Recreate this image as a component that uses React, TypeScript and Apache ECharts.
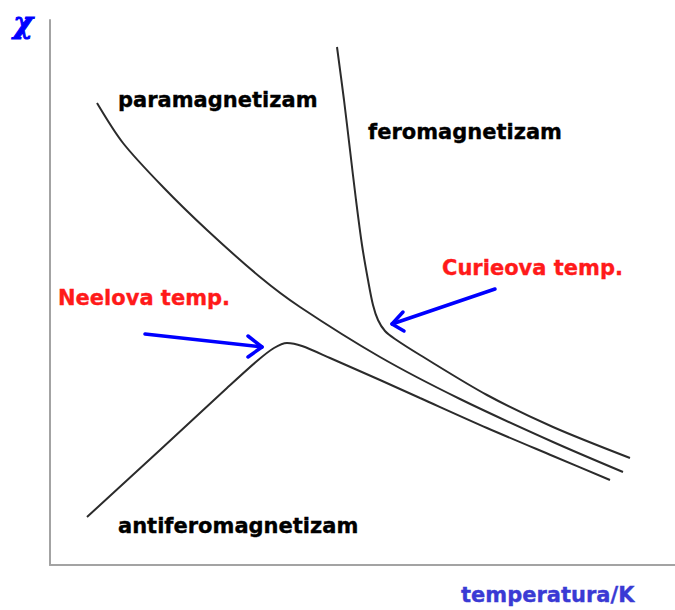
import React, { useEffect, useRef } from "react";
import * as echarts from "echarts";

// Curves (temperature, susceptibility in arbitrary units)
const paraT = [47, 73, 113, 157, 210, 250, 330, 410, 503, 573];
const paraChi = [462, 422, 378, 335, 288, 258, 208, 166, 123, 93];

const feroT = [287, 294, 300, 306, 312, 318, 323, 328, 335, 345, 370, 437, 503, 580];
const feroChi = [518, 465, 415, 365, 320, 285, 260, 245, 234, 226, 210, 170, 138, 107];

const antiT = [37, 110, 177, 207, 224, 237, 252, 280, 330, 370, 437, 503, 560];
const antiChi = [48, 115, 177, 204, 217, 222, 219, 207, 185, 167, 137, 109, 85];

// Annotation arrows (data coordinates): shaft tail -> tip, and head wings
const curieShaft = [[445, 276], [342, 241]];
const curieHead = [[353, 253], [342, 241], [354, 234]];
const neelShaft = [[95, 231], [212, 218]];
const neelHead = [[198, 229], [212, 218], [198, 208]];

const labels = {
  para: "paramagnetizam",
  fero: "feromagnetizam",
  anti: "antiferomagnetizam",
  curie: "Curieova temp.",
  neel: "Neelova temp.",
  xName: "temperatura/K",
  yName: "χ",
};

const zip = (a: number[], b: number[]) => a.map((v, i) => [v, b[i]]);

export default function App() {
  const ref = useRef<HTMLDivElement>(null);
  useEffect(() => {
    if (!ref.current) return;
    const chart = echarts.init(ref.current, null, { renderer: "svg" });
    const curve = (name: string, data: number[][]) => ({
      name,
      type: "line",
      data,
      showSymbol: false,
      symbol: "none",
      smooth: 0.3,
      lineStyle: { color: "#2b2b2b", width: 2 },
      silent: true,
    });
    const arrow = (name: string, data: number[][]) => ({
      name,
      type: "line",
      data,
      symbol: "none",
      showSymbol: false,
      lineStyle: { color: "#0000ff", width: 3.5, cap: "round", join: "round" },
      silent: true,
    });
    const font = "DejaVu Sans";
    const txt = (text: string, x: number, y: number, fill: string) => ({
      type: "text",
      x,
      y,
      style: {
        text,
        fill,
        stroke: fill,
        lineWidth: 0.35,
        font: `bold 21px "${font}"`,
        textAlign: "left",
        textVerticalAlign: "middle",
      },
    });
    chart.setOption({
      animation: false,
      backgroundColor: "#ffffff",
      grid: { left: 50, top: 20, width: 625, height: 545, containLabel: false },
      xAxis: {
        type: "value",
        min: 0,
        max: 625,
        axisLine: { show: true, onZero: false, lineStyle: { color: "#a3a3a3", width: 2 } },
        axisTick: { show: false },
        axisLabel: { show: false },
        splitLine: { show: false },
      },
      yAxis: {
        type: "value",
        min: 0,
        max: 545,
        axisLine: { show: true, onZero: false, lineStyle: { color: "#a3a3a3", width: 2 } },
        axisTick: { show: false },
        axisLabel: { show: false },
        splitLine: { show: false },
      },
      series: [
        curve("para", zip(paraT, paraChi)),
        curve("fero", zip(feroT, feroChi)),
        curve("anti", zip(antiT, antiChi)),
        arrow("curieShaft", curieShaft),
        arrow("curieHead", curieHead),
        arrow("neelShaft", neelShaft),
        arrow("neelHead", neelHead),
      ],
      graphic: [
        txt(labels.para, 118, 100, "#000000"),
        txt(labels.fero, 368, 132, "#000000"),
        txt(labels.anti, 118, 526, "#000000"),
        txt(labels.curie, 442, 268, "#ff1a1a"),
        txt(labels.neel, 58, 298, "#ff1a1a"),
        txt(labels.xName, 461, 595, "#3a3ad4"),
        {
          type: "text",
          x: 23,
          y: 22,
          style: {
            text: labels.yName,
            fill: "#0000ff",
            stroke: "#0000ff",
            lineWidth: 1,
            font: 'bold italic 30px "DejaVu Serif"',
            textAlign: "center",
            textVerticalAlign: "middle",
          },
        },
      ],
    });
    return () => chart.dispose();
  }, []);
  return (
    <div
      ref={ref}
      style={{ position: "absolute", left: 0, top: 0, width: 675, height: 610 }}
    />
  );
}
